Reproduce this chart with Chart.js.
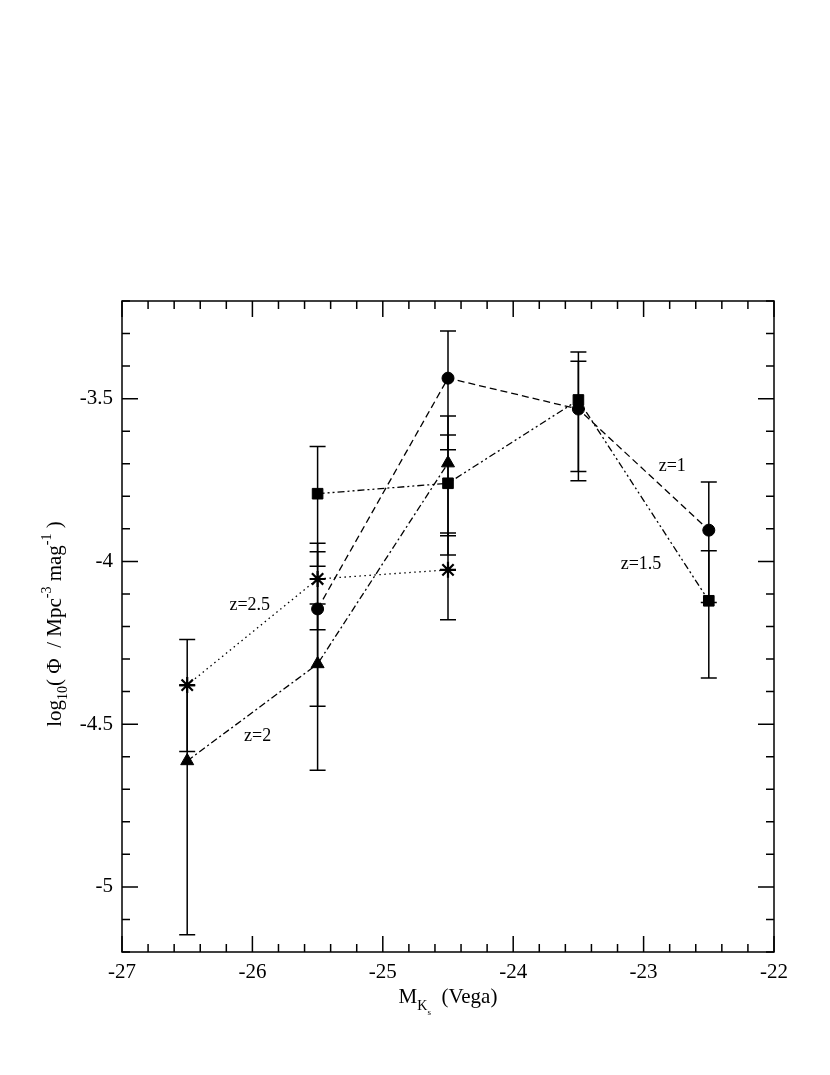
<!DOCTYPE html>
<html>
<head>
<meta charset="utf-8">
<script src="https://cdn.jsdelivr.net/npm/chart.js@4.4.1/dist/chart.umd.min.js"></script>
<style>
  html, body { margin: 0; padding: 0; background: #fff; }
  canvas { display: block; }
</style>
</head>
<body>
<canvas id="lf" width="830" height="1075" style="width:830px;height:1075px"></canvas>
<script>
// magnitude bins
const magBins4 = [-25.5, -24.5, -23.5, -22.5];
const magBins3 = [-26.5, -25.5, -24.5];

// z=1 (circles)
const z1Phi = [-4.146, -3.437, -3.532, -3.904];
const z1Hi  = [-3.970, -3.292, -3.385, -3.756];
const z1Lo  = [-4.445, -3.657, -3.752, -4.126];

// z=1.5 (squares)
const z15Phi = [-3.792, -3.760, -3.504, -4.121];
const z15Hi  = [-3.647, -3.612, -3.357, -3.967];
const z15Lo  = [-4.015, -3.980, -3.724, -4.358];

// z=2 (triangles)
const z2Phi = [-4.613, -4.315, -3.698];
const z2Hi  = [-4.381, -4.131, -3.553];
const z2Lo  = [-5.147, -4.642, -3.921];

// z=2.5 (asterisks)
const z25Phi = [-4.380, -4.054, -4.026];
const z25Hi  = [-4.240, -3.944, -3.913];
const z25Lo  = [-4.584, -4.210, -4.179];

const xTicks = [-27, -26, -25, -24, -23, -22];
const yTicks = [-5, -4.5, -4, -3.5];

// curve labels, in data units
const curveLabels = ['z=1', 'z=1.5', 'z=2', 'z=2.5'];
const labelX = [-22.78, -23.02, -25.96, -26.02];
const labelY = [-3.709, -4.010, -4.537, -4.136];

const SERIF = '"Liberation Serif", "Times New Roman", serif';

function pts(xs, ys) {
  return xs.map((x, i) => ({ x: x, y: ys[i] }));
}

function series(label, xs, ys, hi, lo, style, dash, radius) {
  return {
    label: label,
    data: pts(xs, ys),
    errHi: hi,
    errLo: lo,
    showLine: true,
    borderColor: '#000',
    backgroundColor: '#000',
    borderWidth: 1.3,
    borderDash: dash,
    pointStyle: style,
    pointRadius: radius,
    pointBorderColor: '#000',
    pointBackgroundColor: '#000',
    pointBorderWidth: style === 'star' ? 2.2 : 1,
    tension: 0
  };
}

const errorBars = {
  id: 'errorBars',
  beforeDatasetsDraw(chart) {
    const { ctx, scales: { x, y } } = chart;
    ctx.save();
    ctx.strokeStyle = '#000';
    ctx.lineWidth = 1.5;
    ctx.setLineDash([]);
    chart.data.datasets.forEach(ds => {
      ds.errHi.forEach((hi, i) => {
        const px = x.getPixelForValue(ds.data[i].x);
        const top = y.getPixelForValue(hi);
        const bot = y.getPixelForValue(ds.errLo[i]);
        ctx.beginPath();
        ctx.moveTo(px, top); ctx.lineTo(px, bot);
        ctx.moveTo(px - 8, top); ctx.lineTo(px + 8, top);
        ctx.moveTo(px - 8, bot); ctx.lineTo(px + 8, bot);
        ctx.stroke();
      });
    });
    ctx.restore();
  }
};

const frameAndText = {
  id: 'frameAndText',
  afterDraw(chart) {
    const { ctx, chartArea: a, scales: { x, y } } = chart;
    ctx.save();
    ctx.strokeStyle = '#000';
    ctx.lineWidth = 1.5;
    ctx.setLineDash([]);
    ctx.strokeRect(a.left, a.top, a.right - a.left, a.bottom - a.top);

    // inward ticks on all four sides
    ctx.beginPath();
    for (let i = 0; i <= 25; i++) {
      const v = x.min + i * 0.2;
      const px = x.getPixelForValue(v);
      const len = i % 5 === 0 ? 16 : 8;
      ctx.moveTo(px, a.bottom); ctx.lineTo(px, a.bottom - len);
      ctx.moveTo(px, a.top); ctx.lineTo(px, a.top + len);
    }
    for (let i = 0; i <= 20; i++) {
      const v = y.min + i * 0.1;
      const py = y.getPixelForValue(v);
      const len = (i - 2) % 5 === 0 ? 16 : 8;
      ctx.moveTo(a.left, py); ctx.lineTo(a.left + len, py);
      ctx.moveTo(a.right, py); ctx.lineTo(a.right - len, py);
    }
    ctx.stroke();

    // curve labels
    ctx.fillStyle = '#000';
    ctx.font = '18px ' + SERIF;
    ctx.textAlign = 'center';
    ctx.textBaseline = 'middle';
    curveLabels.forEach((t, i) => {
      ctx.fillText(t, x.getPixelForValue(labelX[i]), y.getPixelForValue(labelY[i]));
    });

    // x axis title: M_{K_s} (Vega)
    ctx.textAlign = 'left';
    ctx.textBaseline = 'alphabetic';
    const xParts = [
      { t: 'M', f: 21, dy: 0 },
      { t: 'K', f: 14, dy: 7 },
      { t: 's', f: 9, dy: 12 },
      { t: '  (Vega)', f: 21, dy: 0 }
    ];
    drawParts(ctx, xParts, (a.left + a.right) / 2, 1003);

    // y axis title: log10( Φ / Mpc^-3 mag^-1 )
    ctx.translate(61, 624);
    ctx.rotate(-Math.PI / 2);
    const yParts = [
      { t: 'log', f: 21, dy: 0 },
      { t: '10', f: 14, dy: 6 },
      { t: '( \u03A6  / Mpc', f: 21, dy: 0 },
      { t: '-3', f: 14, dy: -10 },
      { t: ' mag', f: 21, dy: 0 },
      { t: '-1', f: 14, dy: -10 },
      { t: ' )', f: 21, dy: 0 }
    ];
    drawParts(ctx, yParts, 0, 0);
    ctx.restore();
  }
};

function drawParts(ctx, parts, cx, base) {
  let w = 0;
  parts.forEach(p => { ctx.font = p.f + 'px ' + SERIF; w += ctx.measureText(p.t).width; });
  let px = cx - w / 2;
  parts.forEach(p => {
    ctx.font = p.f + 'px ' + SERIF;
    ctx.fillText(p.t, px, base + p.dy);
    px += ctx.measureText(p.t).width;
  });
}

new Chart(document.getElementById('lf'), {
  type: 'scatter',
  data: {
    datasets: [
      series('z=1', magBins4, z1Phi, z1Hi, z1Lo, 'circle', [7, 4], 6),
      series('z=1.5', magBins4, z15Phi, z15Hi, z15Lo, 'rect', [7, 3, 2, 3, 2, 3], 7.5),
      series('z=2', magBins3, z2Phi, z2Hi, z2Lo, 'triangle', [7, 3, 2, 3], 7.5),
      series('z=2.5', magBins3, z25Phi, z25Hi, z25Lo, 'star', [1.5, 3.5], 8)
    ]
  },
  options: {
    responsive: false,
    animation: false,
    events: [],
    layout: { padding: { left: 0, top: 301, right: 56, bottom: 0 } },
    plugins: { legend: { display: false }, tooltip: { enabled: false } },
    scales: {
      x: {
        type: 'linear',
        min: -27, max: -22,
        grid: { display: false, drawTicks: false },
        border: { display: false },
        afterBuildTicks: s => { s.ticks = xTicks.map(v => ({ value: v })); },
        afterFit: s => { s.height = 123; },
        ticks: {
          color: '#000', padding: 8,
          font: { family: SERIF, size: 21 },
          maxRotation: 0,
          callback: v => String(v)
        }
      },
      y: {
        type: 'linear',
        min: -5.2, max: -3.2,
        grid: { display: false, drawTicks: false },
        border: { display: false },
        afterBuildTicks: s => { s.ticks = yTicks.map(v => ({ value: v })); },
        afterFit: s => { s.width = 122; },
        ticks: {
          color: '#000', padding: 9,
          font: { family: SERIF, size: 21 },
          callback: v => String(v)
        }
      }
    }
  },
  plugins: [errorBars, frameAndText]
});
</script>
</body>
</html>
